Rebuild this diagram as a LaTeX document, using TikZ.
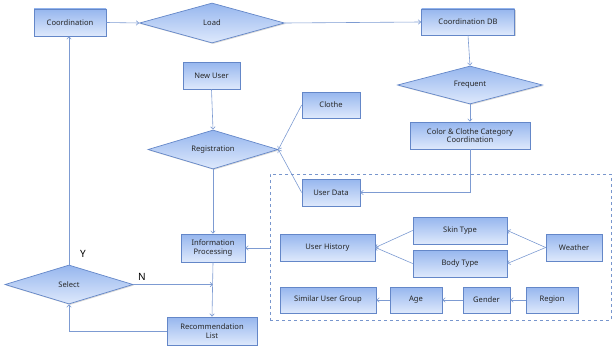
\documentclass[tikz,border=0pt]{standalone}
\usepackage{fontspec}
\setmainfont{Noto Sans}
\usetikzlibrary{arrows.meta,shapes.geometric,shadows}
\definecolor{bordc}{RGB}{100,135,200}
\definecolor{linec}{RGB}{125,155,210}
\definecolor{topc}{RGB}{222,233,252}
\definecolor{botc}{RGB}{150,182,238}
\definecolor{dashc}{RGB}{120,150,205}
\tikzset{
  x=1pt,y=-1pt,
  box/.style={draw=bordc, line width=0.7pt, top color=botc, bottom color=topc,
    drop shadow={shadow xshift=1pt,shadow yshift=-1pt,fill=black!30,opacity=0.5},
    font=\fontsize{7.6}{8.6}\selectfont, inner sep=0pt, align=center, text=black!85},
  dia/.style={diamond, draw=bordc, line width=0.7pt, top color=botc, bottom color=topc,
    drop shadow={shadow xshift=1pt,shadow yshift=-1pt,fill=black!30,opacity=0.5},
    font=\fontsize{7.6}{8.6}\selectfont, inner sep=0pt, text=black!85, aspect=3.5},
  conn/.style={draw=linec, line width=0.6pt, -{Straight Barb[length=2.5pt,width=4.5pt]}},
  lbl/.style={font=\fontsize{10}{12}\selectfont, text=black},
}
\begin{document}
\begin{tikzpicture}
\useasboundingbox (0,0) rectangle (612,345);
% dashed group
\node[draw=dashc, dashed, line width=0.6pt, minimum width=341pt, minimum height=146pt, inner sep=0pt] (grp) at (440.5,247) {};
% top row
\node[box, minimum width=72pt, minimum height=27pt] (coord) at (70,22.5) {Coordination};
\node[dia, minimum width=145pt, minimum height=40pt] (load) at (212,23) {Load};
\node[box, minimum width=93pt, minimum height=26pt] (cdb) at (468,22) {Coordination DB};
\node[dia, minimum width=145pt, minimum height=38pt] (freq) at (470,85) {Frequent};
\node[box, minimum width=120pt, minimum height=27pt] (ccc) at (470,135.5) {Color \& Clothe Category\\Coordination};
% middle
\node[box, minimum width=57pt, minimum height=27pt] (newu) at (211.5,75.5) {New User};
\node[dia, minimum width=130pt, minimum height=39pt] (reg) at (213,149.5) {Registration};
\node[box, minimum width=58pt, minimum height=26pt] (clothe) at (331,105) {Clothe};
\node[box, minimum width=58pt, minimum height=27pt] (udata) at (331,192.5) {User Data};
\node[box, minimum width=64pt, minimum height=28pt] (info) at (213,248) {Information\\Processing};
\node[dia, minimum width=128pt, minimum height=39pt] (sel) at (69,284.5) {Select};
\node[box, minimum width=90pt, minimum height=28pt] (rec) at (212,331) {Recommendation\\List};
% group contents
\node[box, minimum width=95pt, minimum height=27pt] (uhist) at (327.5,247.5) {User History};
\node[box, minimum width=94pt, minimum height=27pt] (skin) at (460,230.5) {Skin Type};
\node[box, minimum width=94pt, minimum height=27pt] (body) at (460,263.5) {Body Type};
\node[box, minimum width=56pt, minimum height=27pt] (weather) at (574,247.5) {Weather};
\node[box, minimum width=96pt, minimum height=26pt] (sug) at (328,300) {Similar User Group};
\node[box, minimum width=52pt, minimum height=26pt] (age) at (416,300) {Age};
\node[box, minimum width=47pt, minimum height=26pt] (gender) at (486.5,300) {Gender};
\node[box, minimum width=52pt, minimum height=26pt] (region) at (552,300) {Region};
% connectors
\draw[conn] (coord.east) -- (load.west);
\draw[conn] (load.east) -- (cdb.west);
\draw[conn] (cdb.south) -- (freq.north);
\draw[conn] (freq.south) -- (ccc.north);
\draw[conn] (ccc.south) |- (udata.east);
\draw[conn] (newu.south) -- (reg.north);
\draw[conn] (clothe.west) -- (reg.east);
\draw[conn] (udata.west) -- (reg.east);
\draw[conn] (reg.south) -- (info.north);
\draw[conn] (grp.west |- info.east) -- (info.east);
\draw[conn] (info.south) -- (rec.north);
\coordinate (njoin) at (info.south |- sel.east);
\draw[conn] (sel.east) -- (njoin);
\draw[conn] (rec.west) -| (sel.south);
\draw[conn] (sel.north) -- (sel.north |- coord.south);
\draw[conn] (skin.west) -- (uhist.east);
\draw[conn] (body.west) -- (uhist.east);
\draw[conn] (weather.west) -- (skin.east);
\draw[conn] (weather.west) -- (body.east);
\draw[conn] (region.west) -- (gender.east);
\draw[conn] (gender.west) -- (age.east);
\draw[conn] (age.west) -- (sug.east);
% labels
\node[lbl] (ylbl) at (83,254) {Y};
\node[lbl] (nlbl) at (142,277) {N};
\end{tikzpicture}
\end{document}
